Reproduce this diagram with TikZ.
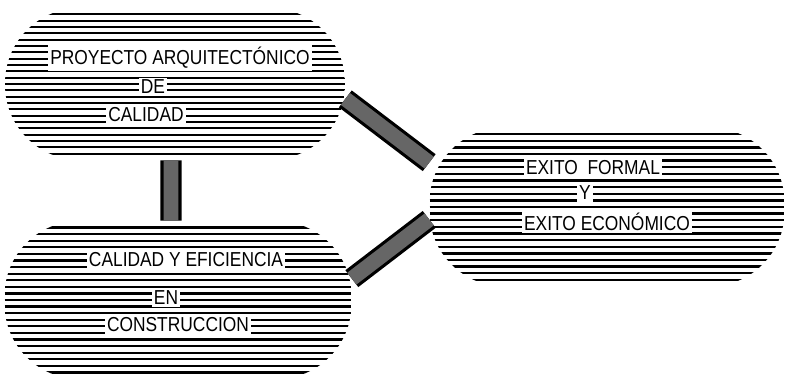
\documentclass[tikz,border=0pt]{standalone}
\usepackage{fontspec}
\setmainfont[FakeStretch=0.86]{Liberation Sans}
\usetikzlibrary{calc}
\tikzset{
  hatch/.style={line width=1.3pt,draw=black},
  blob/.style={rounded corners=1.5cm,fill=white,inner sep=0pt,
    path picture={
      \foreach \k in {1,...,23}{
        \draw[hatch] ($(path picture bounding box.north west)!{\k/24}!(path picture bounding box.south west)$)
          -- ($(path picture bounding box.north east)!{\k/24}!(path picture bounding box.south east)$);
      }}},
  lbl/.style={fill=white,inner sep=1.2pt,font=\fontsize{11.5}{13}\selectfont},
  bar/.style={draw=black,line width=1.8pt,double=black!60,double distance=8.5pt}
}

\begin{document}
\begin{tikzpicture}[x=0.02cm,y=-0.02cm]
  \useasboundingbox (0,0) rectangle (785,384);
  % blobs
  \node[blob,minimum width=6.8cm,minimum height=3.04cm] (proyecto) at (175,84) {};
  \node[blob,minimum width=6.94cm,minimum height=3.16cm] (construccion) at (178,300) {};
  \node[blob,minimum width=7.1cm,minimum height=3.18cm] (exito) at (607,207) {};
  % texts
  \node[lbl] (p1) at (180,58) {PROYECTO ARQUITECTÓNICO};
  \node[lbl] (p2) at (153,87) {DE};
  \node[lbl] (p3) at (146,115) {CALIDAD};
  \node[lbl] (c1) at (186,260) {CALIDAD Y EFICIENCIA};
  \node[lbl] (c2) at (166,298) {EN};
  \node[lbl] (c3) at (178,325) {CONSTRUCCION};
  \node[lbl] (e1) at (593,168) {EXITO \ FORMAL};
  \node[lbl] (e2) at (585,193) {Y};
  \node[lbl] (e3) at (607,222) {EXITO ECONÓMICO};
  % bars
  \draw[bar] ([xshift=-0.08cm]proyecto.south) -- ([xshift=-0.14cm]construccion.north);
  \draw[bar] (proyecto.-5) -- (exito.166);
  \draw[bar] (construccion.7) -- (exito.184);
\end{tikzpicture}
\end{document}
